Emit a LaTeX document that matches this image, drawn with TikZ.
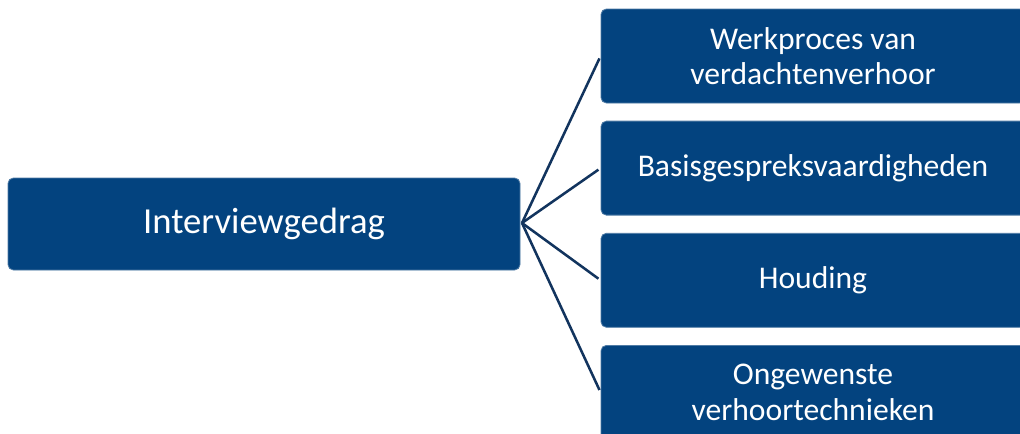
\documentclass[tikz,border=0pt]{standalone}
\usepackage{fontspec}
\setmainfont{Carlito}
\usetikzlibrary{positioning}
\definecolor{boxblue}{HTML}{03437F}
\definecolor{linkblue}{HTML}{12345E}
\tikzstyle{topic}=[
  draw=boxblue!70!white,fill=boxblue,text=white,rounded corners=4pt,line width=0.6pt,
  align=center,inner sep=0pt
]
\tikzstyle{mainbox}=[
  topic,minimum width=384pt,minimum height=69pt,font=\fontsize{27.5}{32}\selectfont
]
\tikzstyle{subbox}=[
  topic,minimum width=318pt,minimum height=70.5pt,font=\fontsize{23.7}{26.5}\selectfont
]
\tikzstyle{link}=[
  draw=linkblue,line width=1.9pt,shorten >=2pt
]

\begin{document}
\begin{tikzpicture}[x=0.75pt,y=-0.75pt]
    \clip (0,0) rectangle (1020,433);
    \node (main) at (264,224) [mainbox] {Interviewgedrag};
    \coordinate (hub) at (522,223);
    \node (b1) at (813,56) [subbox] {Werkproces van\\verdachtenverhoor};
    \node (b2) [subbox,below=13pt of b1] {Basisgespreksvaardigheden};
    \node (b3) [subbox,below=13pt of b2] {Houding};
    \node (b4) [subbox,below=13pt of b3] {Ongewenste\\verhoortechnieken};
    \foreach \b in {b1,b2,b3,b4}
      \draw [link] (hub) -- (\b.west);
\end{tikzpicture}
\end{document}
